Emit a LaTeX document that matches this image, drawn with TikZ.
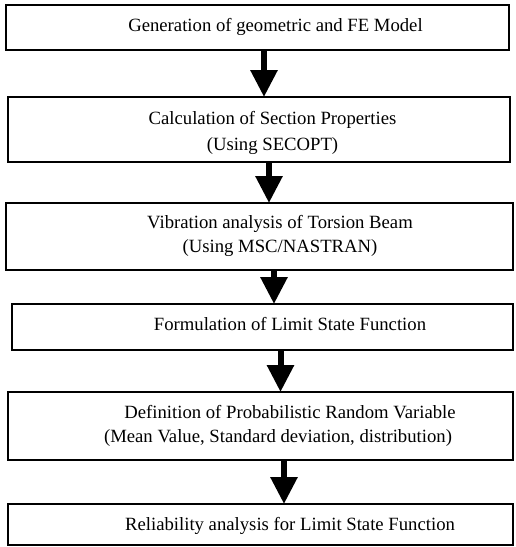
\documentclass[tikz,border=0pt]{standalone}
\usepackage{fontspec}
\setmainfont{Liberation Serif}
\usetikzlibrary{arrows.meta}
\begin{document}
\begin{tikzpicture}[x=1pt,y=-1pt,
  box/.style={draw=black,line width=2pt,rectangle,inner sep=0pt,outer sep=0pt},
  txt/.style={anchor=base,inner sep=0pt,font=\fontsize{18.7}{24}\selectfont},
  bigarrow/.style={line width=6pt,-{Triangle[width=26pt,length=27pt]}}]
\useasboundingbox (0,0) rectangle (515,547);
\node[box,minimum width=503pt,minimum height=45pt] (b1) at (257.5,27.5) {};
\node[box,minimum width=502pt,minimum height=65pt] (b2) at (259,129.5) {};
\node[box,minimum width=507pt,minimum height=67pt] (b3) at (259.5,236.5) {};
\node[box,minimum width=501pt,minimum height=46pt] (b4) at (262.5,327) {};
\node[box,minimum width=505pt,minimum height=68pt] (b5) at (260.5,426) {};
\node[box,minimum width=505pt,minimum height=41pt] (b6) at (260.5,524.5) {};
\node[txt] (t1) at (275.5,31) {Generation of geometric and FE Model};
\node[txt] (t2a) at (272.5,124) {Calculation of Section Properties};
\node[txt] (t2b) at (272.5,150) {(Using SECOPT)};
\node[txt] (t3a) at (280,228) {Vibration analysis of Torsion Beam};
\node[txt] (t3b) at (280,252) {(Using MSC/NASTRAN)};
\node[txt] (t4) at (290,330) {Formulation of Limit State Function};
\node[txt] (t5a) at (290,418) {Definition of Probabilistic Random Variable};
\node[txt] (t5b) at (278,442) {(Mean Value, Standard deviation, distribution)};
\node[txt] (t6) at (290,530) {Reliability analysis for Limit State Function};
\draw[bigarrow] ([xshift=6.5pt]b1.south) -- ([xshift=5pt]b2.north);
\draw[bigarrow] ([xshift=10pt]b2.south) -- ([xshift=9.5pt]b3.north);
\draw[bigarrow] ([xshift=14.5pt]b3.south) -- ([xshift=11.5pt]b4.north);
\draw[bigarrow] ([xshift=18pt]b4.south) -- ([xshift=20pt]b5.north);
\draw[bigarrow] ([xshift=23.5pt]b5.south) -- ([xshift=23.5pt]b6.north);
\end{tikzpicture}
\end{document}
